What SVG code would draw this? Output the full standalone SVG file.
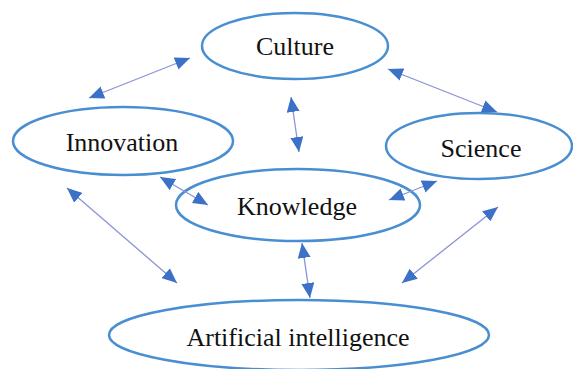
<svg xmlns="http://www.w3.org/2000/svg" width="573" height="369" viewBox="0 0 573 369">
  <style>
    .node ellipse { fill: #ffffff; stroke: #4a8ed2; stroke-width: 2.5; }
    .node text { font-family: "Liberation Serif", "Times New Roman", serif; font-size: 26px; fill: #111111; text-anchor: middle; }
    .links line { stroke: #8a93d6; stroke-width: 1.3; marker-start: url(#head); marker-end: url(#head); }
  </style>
  <defs>
    <marker id="head" viewBox="0 0 15 13" refX="15" refY="6.5" markerWidth="15" markerHeight="13" markerUnits="userSpaceOnUse" orient="auto-start-reverse">
      <path d="M0,0 L15,6.5 L0,13 z" fill="#3b72c8"/>
    </marker>
  </defs>
  <rect width="573" height="369" fill="#ffffff"/>

  <g id="culture" class="node">
    <ellipse cx="295" cy="46" rx="93" ry="33"/>
    <text x="295" y="55">Culture</text>
  </g>
  <g id="innovation" class="node">
    <ellipse cx="123" cy="141" rx="110" ry="34"/>
    <text x="122" y="151">Innovation</text>
  </g>
  <g id="science" class="node">
    <ellipse cx="479" cy="146" rx="93" ry="33"/>
    <text x="481" y="157">Science</text>
  </g>
  <g id="knowledge" class="node">
    <ellipse cx="298" cy="205" rx="122" ry="36"/>
    <text x="297" y="215">Knowledge</text>
  </g>
  <g id="ai" class="node">
    <ellipse cx="299" cy="335" rx="190" ry="35"/>
    <text x="298" y="346">Artificial intelligence</text>
  </g>

  <g id="connectors" class="links">
    <line x1="89" y1="98" x2="190" y2="58"/>
    <line x1="291" y1="97" x2="299" y2="152"/>
    <line x1="388" y1="69" x2="497" y2="112"/>
    <line x1="160" y1="177" x2="208" y2="205"/>
    <line x1="389" y1="200" x2="437" y2="181"/>
    <line x1="67" y1="188" x2="177" y2="283"/>
    <line x1="302" y1="243" x2="310" y2="298"/>
    <line x1="498" y1="207" x2="402" y2="283"/>
  </g>
</svg>
